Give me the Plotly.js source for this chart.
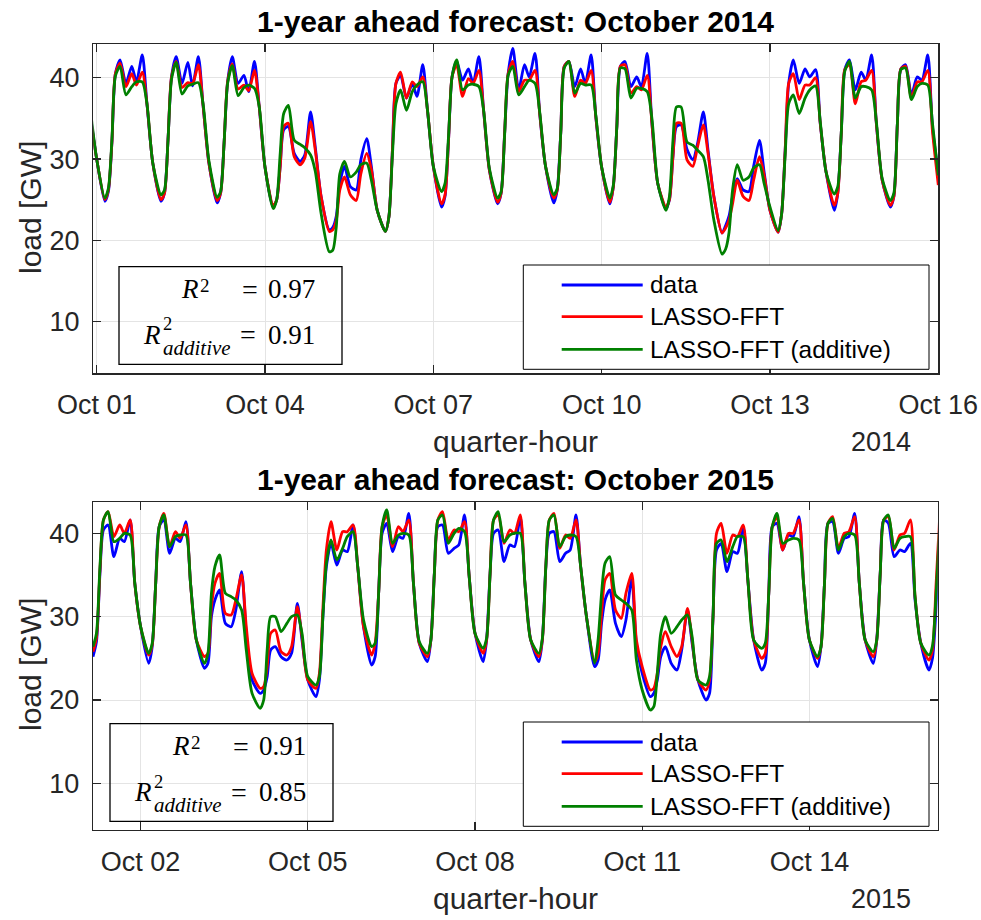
<!DOCTYPE html>
<html>
<head>
<meta charset="utf-8">
<script src="https://cdn.plot.ly/plotly-3.0.1.min.js"></script>
<style>
  html, body { margin: 0; padding: 0; background: #ffffff; }
  #chart { width: 981px; height: 920px; }
</style>
</head>
<body>
<div id="chart"></div>
<script>
// Sample hours within each day (local time)
const HOURS = [0, 3.5, 5, 6.5, 8, 10, 12.5, 15, 17, 19.5, 21.5];
const _ = null;

// ---- October 2014 ----
const DAYS_2014 = ['2014-09-30', '2014-10-01', '2014-10-02', '2014-10-03', '2014-10-04', '2014-10-05',
  '2014-10-06', '2014-10-07', '2014-10-08', '2014-10-09', '2014-10-10', '2014-10-11', '2014-10-12',
  '2014-10-13', '2014-10-14', '2014-10-15', '2014-10-16'];
const TICKS_2014 = ['2014-10-01', '2014-10-04', '2014-10-07', '2014-10-10', '2014-10-13', '2014-10-16'];

const DATA_2014 = [
  [_, _, _, _, _, _, _, _, _, _, 35.0],
  [30.0, 24.8, 26.0, 32.0, 40.5, 42.2, 39.3, 41.4, 39.5, 42.8, 36.8],
  [29.5, 24.8, 25.8, 32.3, 40.1, 42.6, 39.3, 41.9, 39.0, 42.6, 36.6],
  [29.5, 24.6, 25.8, 32.0, 39.5, 42.6, 39.3, 40.3, 38.3, 42.0, 36.5],
  [29.0, 24.1, 25.0, 29.1, 33.6, 34.0, 30.7, 29.7, 30.5, 35.8, 31.5],
  [25.4, 21.3, 21.6, 23.0, 27.0, 29.1, 26.6, 26.2, 29.9, 32.5, 29.1],
  [23.7, 21.1, 22.9, 31.1, 39.3, 40.3, 37.5, 39.3, 37.7, 41.6, 36.0],
  [29.1, 24.1, 25.4, 32.3, 40.1, 42.0, 39.7, 41.1, 39.3, 42.6, 36.0],
  [28.6, 24.5, 25.8, 33.2, 40.5, 43.6, 38.5, 41.6, 40.1, 43.0, 35.6],
  [29.1, 24.6, 26.2, 33.2, 41.4, 42.0, 38.9, 41.1, 39.3, 42.8, 35.2],
  [29.0, 24.5, 26.6, 34.0, 41.4, 42.0, 38.9, 40.1, 38.9, 43.0, 34.4],
  [27.0, 23.9, 25.0, 30.3, 34.0, 34.2, 31.2, 29.9, 31.9, 35.8, 31.1],
  [25.4, 20.9, 21.8, 23.0, 25.4, 27.6, 26.2, 26.0, 29.1, 32.3, 28.4],
  [23.7, 21.0, 23.3, 31.1, 39.3, 42.2, 39.3, 41.1, 40.1, 41.0, 34.4],
  [28.4, 23.7, 25.8, 33.2, 41.0, 42.2, 38.5, 40.7, 39.7, 42.8, 34.4],
  [27.4, 24.1, 25.4, 34.4, 41.1, 41.6, 37.9, 40.1, 39.7, 42.8, 34.0],
  [28.2, _, _, _, _, _, _, _, _, _, _]
];
const LASSO_2014 = [
  [_, _, _, _, _, _, _, _, _, _, 34.8],
  [30.0, 25.0, 26.2, 32.0, 40.5, 41.8, 38.9, 40.5, 39.1, 40.7, 36.8],
  [29.5, 25.0, 25.8, 32.3, 40.1, 42.0, 38.8, 39.4, 39.3, 41.6, 36.6],
  [29.5, 24.9, 25.8, 32.0, 39.5, 41.7, 38.6, 39.1, 38.4, 40.9, 36.5],
  [29.0, 24.3, 25.0, 29.1, 34.0, 34.4, 30.3, 29.3, 30.1, 34.6, 31.1],
  [25.4, 21.1, 21.3, 22.5, 26.2, 27.8, 25.6, 24.9, 28.2, 30.7, 28.7],
  [23.7, 21.1, 22.9, 31.1, 39.3, 40.7, 37.5, 39.5, 38.9, 40.1, 36.0],
  [29.1, 24.5, 25.6, 32.3, 40.1, 41.6, 37.7, 39.9, 39.3, 40.9, 36.0],
  [28.6, 24.7, 25.8, 33.2, 40.5, 42.0, 38.3, 39.7, 39.7, 40.9, 35.6],
  [29.1, 25.2, 26.2, 33.2, 41.4, 42.0, 37.7, 39.7, 39.3, 40.9, 35.2],
  [29.0, 24.7, 26.6, 34.0, 41.4, 41.6, 38.1, 38.9, 38.5, 40.3, 34.4],
  [27.0, 24.1, 25.0, 30.3, 34.4, 34.4, 29.9, 29.1, 31.5, 34.2, 30.7],
  [25.4, 20.9, 21.5, 22.5, 24.5, 27.4, 25.4, 24.9, 27.4, 30.3, 28.0],
  [23.7, 21.0, 23.3, 31.1, 39.3, 40.5, 37.3, 39.1, 39.1, 40.0, 34.4],
  [28.4, 24.3, 25.8, 33.2, 41.0, 41.6, 36.8, 39.5, 39.7, 40.9, 34.4],
  [27.4, 24.3, 25.4, 34.4, 41.1, 41.4, 37.5, 39.5, 39.5, 40.9, 33.4],
  [26.8, _, _, _, _, _, _, _, _, _, _]
];
const ADDITIVE_2014 = [
  [_, _, _, _, _, _, _, _, _, _, 35.6],
  [30.0, 25.2, 26.4, 32.3, 40.2, 41.4, 37.9, 38.9, 39.5, 39.5, 36.8],
  [29.5, 25.6, 26.2, 32.3, 39.8, 41.9, 38.0, 39.0, 39.2, 39.4, 36.8],
  [29.8, 25.3, 26.0, 32.0, 39.3, 41.5, 37.8, 38.8, 39.1, 38.7, 36.5],
  [29.0, 23.9, 25.0, 30.7, 35.6, 36.6, 32.3, 31.8, 31.4, 30.5, 28.5],
  [23.3, 18.6, 18.8, 21.7, 28.2, 29.7, 27.8, 28.4, 29.3, 29.5, 27.4],
  [23.7, 21.1, 22.9, 30.5, 36.8, 38.5, 36.0, 38.3, 39.1, 39.5, 36.0],
  [29.1, 26.0, 27.0, 32.8, 40.1, 42.2, 38.5, 39.1, 39.2, 38.9, 36.0],
  [28.8, 25.2, 26.0, 33.0, 40.3, 41.4, 37.9, 38.9, 39.7, 39.3, 35.8],
  [29.1, 25.6, 26.4, 33.2, 41.2, 42.0, 38.1, 39.3, 39.1, 39.1, 35.4],
  [29.0, 25.2, 26.8, 34.0, 41.2, 41.1, 37.5, 38.7, 38.7, 38.3, 35.0],
  [27.0, 23.7, 25.4, 32.3, 36.4, 36.4, 32.1, 31.7, 31.1, 30.3, 27.4],
  [22.5, 18.3, 18.9, 21.0, 26.2, 29.3, 27.4, 27.8, 28.9, 29.3, 27.0],
  [24.1, 21.2, 23.3, 30.5, 36.8, 37.9, 35.6, 37.5, 38.5, 39.0, 34.6],
  [28.4, 25.7, 26.6, 33.2, 40.8, 42.0, 37.5, 38.9, 38.9, 38.5, 34.6],
  [27.6, 24.9, 25.8, 34.4, 41.0, 41.2, 37.3, 38.9, 39.3, 39.1, 34.4],
  [28.0, _, _, _, _, _, _, _, _, _, _]
];

// ---- October 2015 ----
const DAYS_2015 = ['2015-10-01', '2015-10-02', '2015-10-03', '2015-10-04', '2015-10-05', '2015-10-06',
  '2015-10-07', '2015-10-08', '2015-10-09', '2015-10-10', '2015-10-11', '2015-10-12', '2015-10-13',
  '2015-10-14', '2015-10-15', '2015-10-16'];
const TICKS_2015 = ['2015-10-02', '2015-10-05', '2015-10-08', '2015-10-11', '2015-10-14'];

const DATA_2015 = [
  [_, 25.2, 27.0, 35.2, 40.4, 41.0, 37.2, 39.4, 39.0, 41.6, 34.0],
  [28.8, 24.4, 26.4, 34.0, 40.8, 41.6, 37.6, 39.4, 39.0, 41.4, 34.0],
  [27.2, 23.8, 24.4, 30.0, 32.0, 33.2, 29.2, 28.8, 30.8, 35.4, 28.0],
  [22.4, 20.8, 21.2, 22.8, 26.0, 26.4, 25.2, 24.8, 25.6, 31.6, 27.2],
  [22.4, 20.4, 22.4, 30.0, 36.0, 38.8, 36.2, 38.0, 37.8, 41.0, 36.0],
  [28.8, 24.2, 25.2, 32.8, 40.0, 41.2, 37.8, 39.6, 39.4, 42.4, 34.0],
  [26.8, 24.6, 27.2, 35.2, 40.8, 41.0, 37.6, 38.2, 38.6, 42.2, 34.8],
  [28.0, 24.6, 27.2, 35.2, 40.0, 40.4, 36.6, 38.6, 38.4, 42.0, 34.0],
  [27.2, 24.6, 27.2, 36.0, 40.0, 40.2, 36.6, 37.6, 38.0, 42.2, 36.0],
  [30.0, 24.0, 24.8, 29.2, 32.0, 33.2, 29.2, 27.6, 29.6, 34.6, 26.8],
  [23.2, 20.4, 20.8, 22.4, 25.2, 26.4, 24.4, 23.6, 26.0, 30.8, 26.8],
  [22.4, 20.0, 20.8, 30.0, 38.0, 38.8, 35.4, 37.8, 37.6, 40.8, 34.4],
  [27.2, 23.6, 24.4, 32.8, 40.8, 41.2, 38.0, 39.8, 39.6, 42.0, 34.0],
  [27.2, 24.0, 26.4, 34.0, 41.2, 41.4, 37.6, 39.4, 39.6, 42.4, 34.0],
  [27.2, 24.4, 27.2, 35.2, 41.6, 41.2, 37.2, 38.0, 37.8, 38.8, 32.0],
  [26.8, 23.6, 25.0, 30.8, 39.5, _, _, _, _, _, _]
];
const LASSO_2015 = [
  [_, 25.8, 27.5, 35.6, 41.6, 42.6, 39.6, 41.0, 40.0, 41.6, 34.0],
  [28.8, 25.4, 26.6, 34.0, 40.8, 42.4, 38.4, 40.2, 39.4, 41.0, 34.0],
  [27.2, 25.2, 25.6, 31.2, 34.0, 35.2, 30.4, 30.2, 32.0, 35.0, 28.8],
  [23.2, 21.4, 21.6, 24.0, 28.0, 28.4, 25.8, 25.4, 26.4, 31.2, 27.6],
  [22.4, 21.4, 23.2, 31.0, 38.0, 41.4, 38.0, 40.2, 40.2, 41.0, 36.0],
  [28.8, 25.4, 26.8, 32.8, 40.8, 42.2, 38.4, 40.8, 40.2, 41.6, 34.0],
  [26.8, 25.2, 27.2, 35.2, 41.6, 42.6, 39.2, 40.4, 40.2, 41.4, 34.8],
  [28.0, 25.6, 27.2, 35.2, 41.6, 42.2, 38.8, 40.4, 40.0, 42.2, 34.0],
  [27.2, 25.2, 27.2, 36.0, 41.6, 42.4, 38.2, 39.8, 39.4, 41.6, 36.0],
  [30.0, 24.6, 25.6, 30.4, 34.4, 35.2, 30.8, 29.8, 32.8, 35.2, 27.2],
  [24.0, 21.2, 21.4, 23.2, 26.4, 28.2, 26.4, 25.2, 26.4, 31.0, 27.2],
  [22.4, 21.2, 22.4, 30.0, 40.0, 41.2, 37.6, 39.8, 39.6, 41.0, 34.4],
  [27.2, 25.0, 25.6, 32.8, 40.8, 42.0, 38.0, 40.0, 40.0, 41.6, 34.0],
  [27.2, 25.0, 26.4, 34.0, 41.2, 42.0, 38.2, 40.0, 40.2, 42.0, 34.0],
  [27.2, 25.2, 27.2, 35.2, 41.6, 42.0, 38.0, 39.8, 40.0, 41.6, 32.4],
  [26.8, 24.8, 26.0, 33.6, 41.5, _, _, _, _, _, _]
];
const ADDITIVE_2015 = [
  [_, 26.4, 28.0, 36.0, 41.6, 42.6, 39.0, 39.4, 40.0, 39.8, 34.0],
  [28.8, 25.6, 26.8, 34.0, 40.8, 42.2, 38.4, 39.6, 39.8, 39.8, 34.0],
  [27.2, 24.4, 25.6, 32.8, 36.0, 37.4, 32.8, 32.4, 32.0, 30.8, 26.0],
  [20.8, 19.0, 20.0, 26.0, 30.0, 30.0, 28.2, 29.2, 30.0, 30.2, 28.0],
  [22.8, 21.8, 22.8, 30.0, 36.4, 39.2, 36.8, 38.2, 39.6, 40.2, 36.0],
  [29.6, 26.4, 26.8, 32.8, 40.8, 42.8, 38.8, 39.8, 40.0, 39.8, 34.0],
  [27.0, 25.6, 27.2, 35.2, 41.6, 42.2, 38.8, 40.0, 40.6, 40.2, 34.8],
  [28.0, 26.2, 27.4, 35.2, 41.6, 42.6, 39.0, 39.8, 40.0, 40.0, 34.0],
  [27.2, 25.6, 27.4, 36.0, 41.6, 42.2, 38.4, 39.6, 39.8, 39.6, 36.0],
  [30.0, 24.4, 27.2, 32.8, 36.4, 37.2, 32.6, 32.0, 31.6, 30.8, 24.8],
  [21.2, 18.8, 19.2, 23.2, 28.0, 30.0, 28.0, 28.8, 29.6, 30.2, 27.6],
  [22.4, 21.8, 22.8, 30.0, 38.8, 39.2, 36.6, 38.4, 39.6, 39.6, 34.4],
  [27.2, 26.2, 26.8, 32.8, 40.8, 42.4, 38.8, 39.2, 39.4, 39.2, 34.0],
  [27.2, 25.2, 26.4, 34.0, 41.2, 41.8, 38.0, 39.6, 40.0, 39.8, 34.0],
  [27.2, 25.8, 27.2, 35.2, 41.6, 42.2, 38.2, 39.4, 39.6, 39.6, 32.4],
  [26.8, 25.4, 26.5, 32.4, 40.5, _, _, _, _, _, _]
];

const SERIES_NAMES = ['data', 'LASSO-FFT', 'LASSO-FFT (additive)'];
const SERIES_COLORS = ['#0000ff', '#ff0000', '#008000'];
const R2_2014 = ['0.97', '0.91'];
const R2_2015 = ['0.91', '0.85'];

// ---- helpers ----
const W = 981, H = 920;
const px = x => x / W;
const py = y => 1 - y / H;
const SANS = '"Liberation Sans", Arial, Helvetica, sans-serif';
const SERIF = '"Liberation Serif", "Times New Roman", serif';
const AX = '#262626';

function stamp(day, h) {
  const hh = Math.floor(h), mm = Math.round((h - hh) * 60);
  return day + ' ' + String(hh).padStart(2, '0') + ':' + String(mm).padStart(2, '0');
}
function series(days, rows) {
  const x = [], y = [];
  days.forEach((d, i) => HOURS.forEach((h, j) => {
    const v = rows[i][j];
    if (v !== null) { x.push(stamp(d, h)); y.push(v); }
  }));
  return { x, y };
}
function lineTrace(days, rows, k, xa, ya) {
  const s = series(days, rows);
  return {
    type: 'scatter', mode: 'lines', x: s.x, y: s.y, xaxis: xa, yaxis: ya,
    name: SERIES_NAMES[k], showlegend: false, hoverinfo: 'skip',
    line: { color: SERIES_COLORS[k], width: 2.8, shape: 'spline', smoothing: 0.7 }
  };
}

const traces = [
  lineTrace(DAYS_2014, DATA_2014, 0, 'x', 'y'),
  lineTrace(DAYS_2014, LASSO_2014, 1, 'x', 'y'),
  lineTrace(DAYS_2014, ADDITIVE_2014, 2, 'x', 'y'),
  lineTrace(DAYS_2015, DATA_2015, 0, 'x2', 'y2'),
  lineTrace(DAYS_2015, LASSO_2015, 1, 'x2', 'y2'),
  lineTrace(DAYS_2015, ADDITIVE_2015, 2, 'x2', 'y2')
];

function xAxis(domain, range, ticks, anchor) {
  return {
    type: 'date', domain, range, anchor, tickvals: ticks, tickformat: '%b %d',
    ticks: 'inside', ticklen: 8, tickwidth: 1.2, tickcolor: AX,
    showline: true, linecolor: AX, linewidth: 1.3, mirror: 'ticks',
    showgrid: true, gridcolor: '#e4e4e4', gridwidth: 1, zeroline: false,
    tickfont: { family: SANS, size: 27, color: AX }, ticklabelstandoff: 7, fixedrange: true
  };
}
function yAxis(domain, range, anchor) {
  return {
    domain, range, anchor, tickvals: [10, 20, 30, 40],
    ticks: 'inside', ticklen: 8, tickwidth: 1.2, tickcolor: AX,
    showline: true, linecolor: AX, linewidth: 1.3, mirror: 'ticks',
    showgrid: true, gridcolor: '#e4e4e4', gridwidth: 1, zeroline: false,
    tickfont: { family: SANS, size: 27, color: AX }, ticklabelstandoff: 7, fixedrange: true
  };
}

function label(text, x, y, extra) {
  const a = {
    text, x: px(x), y: py(y), xref: 'paper', yref: 'paper', showarrow: false,
    xanchor: 'center', yanchor: 'middle', font: { family: SANS, size: 27, color: AX }
  };
  return Object.assign(a, extra || {});
}

// Per-panel decorations: title, axis titles, year, R^2 box and legend
function panel(dy, dxBox, year, r2) {
  const ann = [], shp = [];
  ann.push(label('<b>1-year ahead forecast: October ' + year + '</b>', 515.5, 22 + dy,
    { font: { family: SANS, size: 30, color: '#000' } }));
  ann.push(label('load [GW]', 30, 208 + dy, { textangle: -90, font: { family: SANS, size: 30, color: AX } }));
  ann.push(label('quarter-hour', 515.5, 441 + dy, { font: { family: SANS, size: 30, color: AX } }));
  ann.push(label(String(year), 913, 441.5 + dy, { xanchor: 'right' }));

  // R^2 summary box
  const bx = dxBox;
  shp.push({ type: 'rect', xref: 'paper', yref: 'paper', layer: 'above',
    x0: px(119 + bx), x1: px(342 + bx), y0: py(266.7 + dy), y1: py(364.3 + dy),
    line: { color: '#000', width: 1.3 }, fillcolor: 'rgba(0,0,0,0)' });
  const math = (t, x, y, size, anchor, h) => label(t, x + bx, y + dy,
    Object.assign({ xanchor: anchor || 'left', borderpad: 0, font: { family: SERIF, size, color: '#000' } },
      h ? { height: h } : {}));
  ann.push(math('<i>R</i>', 180, 289, 27));
  ann.push(math('2', 199, 285.5, 19, 'left'));
  ann.push(math('=', 250, 289, 28, 'center'));
  ann.push(math(r2[0], 266.5, 289, 27));
  ann.push(math('<i>R</i>', 141.5, 335, 27));
  ann.push(math('2', 161.5, 324.5, 18.5, 'left', 18));
  ann.push(math('<i>additive</i>', 161.5, 348, 21, 'left', 20));
  ann.push(math('=', 248.3, 335, 28, 'center'));
  ann.push(math(r2[1], 266.5, 335, 27));

  // legend
  shp.push({ type: 'rect', xref: 'paper', yref: 'paper', layer: 'above',
    x0: px(523.3), x1: px(929), y0: py(265 + dy), y1: py(369.3 + dy),
    line: { color: '#000', width: 1 }, fillcolor: '#ffffff' });
  const rows = [285, 316.7, 349.3];
  SERIES_NAMES.forEach((n, k) => {
    shp.push({ type: 'line', xref: 'paper', yref: 'paper', layer: 'above',
      x0: px(561.7), x1: px(642.7), y0: py(rows[k] + dy), y1: py(rows[k] + dy),
      line: { color: SERIES_COLORS[k], width: 2.8 } });
    ann.push(label(n, 648.3, rows[k] + dy,
      { xanchor: 'left', font: { family: SANS, size: 24.4, color: '#000' } }));
  });
  return { ann, shp };
}

const p1 = panel(0, 0, 2014, R2_2014);
const p2 = panel(457, -9, 2015, R2_2015);

const layout = {
  width: W, height: H, margin: { l: 0, r: 0, t: 0, b: 0 },
  paper_bgcolor: '#ffffff', plot_bgcolor: '#ffffff', showlegend: false,
  xaxis: xAxis([px(93.3), px(938.3)], ['2014-09-30 22:33', '2014-10-16 00:00'], TICKS_2014, 'y'),
  yaxis: yAxis([py(373.3), py(44)], [3.65, 44.15], 'x'),
  xaxis2: xAxis([px(93), px(937.7)], ['2015-10-01 03:30', '2015-10-16 07:15'], TICKS_2015, 'y2'),
  yaxis2: yAxis([py(830), py(502)], [4.4, 43.76], 'x2'),
  annotations: p1.ann.concat(p2.ann),
  shapes: p1.shp.concat(p2.shp)
};

Plotly.newPlot('chart', traces, layout, { displayModeBar: false, staticPlot: true });
</script>
</body>
</html>
